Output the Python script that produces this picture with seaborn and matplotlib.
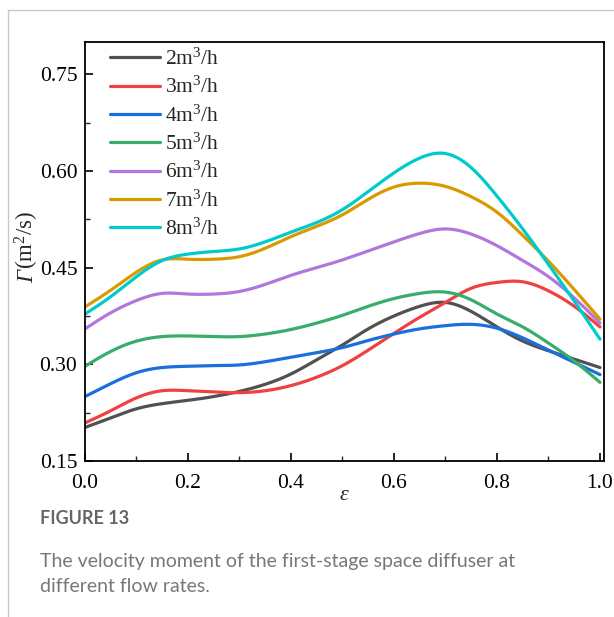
import numpy as np
import pandas as pd
import matplotlib
matplotlib.use("Agg")
import matplotlib.pyplot as plt
import seaborn as sns
from matplotlib.ticker import MultipleLocator
from matplotlib.lines import Line2D

eps = [0.0, 0.05, 0.1, 0.15, 0.2, 0.25, 0.3, 0.35, 0.4, 0.45, 0.5,
       0.55, 0.6, 0.65, 0.7, 0.75, 0.8, 0.85, 0.9, 0.95, 1.0]

q2 = [0.202, 0.217, 0.231, 0.239, 0.244, 0.250, 0.258, 0.269, 0.285, 0.307, 0.330,
      0.355, 0.375, 0.390, 0.396, 0.382, 0.358, 0.336, 0.321, 0.308, 0.295]
q3 = [0.209, 0.228, 0.248, 0.259, 0.259, 0.257, 0.256, 0.259, 0.267, 0.280, 0.298,
      0.322, 0.348, 0.373, 0.396, 0.418, 0.427, 0.428, 0.414, 0.390, 0.358]
q4 = [0.250, 0.270, 0.287, 0.295, 0.297, 0.298, 0.299, 0.304, 0.311, 0.318, 0.326,
      0.337, 0.347, 0.355, 0.360, 0.362, 0.356, 0.341, 0.322, 0.303, 0.284]
q5 = [0.297, 0.320, 0.336, 0.343, 0.344, 0.343, 0.343, 0.347, 0.354, 0.364, 0.376,
      0.390, 0.402, 0.410, 0.412, 0.400, 0.378, 0.358, 0.333, 0.305, 0.272]
q6 = [0.355, 0.380, 0.399, 0.410, 0.409, 0.409, 0.413, 0.424, 0.438, 0.450, 0.462,
      0.476, 0.490, 0.503, 0.510, 0.502, 0.484, 0.461, 0.436, 0.403, 0.364]
q7 = [0.389, 0.415, 0.443, 0.462, 0.463, 0.463, 0.467, 0.480, 0.498, 0.514, 0.532,
      0.556, 0.575, 0.581, 0.576, 0.560, 0.536, 0.500, 0.460, 0.416, 0.370]
q8 = [0.378, 0.405, 0.436, 0.461, 0.471, 0.475, 0.479, 0.490, 0.505, 0.520, 0.540,
      0.568, 0.597, 0.620, 0.627, 0.605, 0.561, 0.510, 0.455, 0.398, 0.339]

series_labels = [r"2m$^3$/h", r"3m$^3$/h", r"4m$^3$/h", r"5m$^3$/h",
                 r"6m$^3$/h", r"7m$^3$/h", r"8m$^3$/h"]
series_values = [q2, q3, q4, q5, q6, q7, q8]
colors = ["#515151", "#F14040", "#1A6FDF", "#37AD6B", "#B177DE", "#D99A00", "#00CBCC"]

x_ticks = [0.0, 0.2, 0.4, 0.6, 0.8, 1.0]
y_ticks = [0.15, 0.30, 0.45, 0.60, 0.75]


def spline_connect(x, y, n=300):
    """Natural cubic spline line connection (like Origin's 'Spline' line style)."""
    x = np.asarray(x, float)
    y = np.asarray(y, float)
    m = len(x)
    h = np.diff(x)
    A = np.zeros((m, m))
    b = np.zeros(m)
    A[0, 0] = A[-1, -1] = 1.0
    for i in range(1, m - 1):
        A[i, i - 1] = h[i - 1]
        A[i, i] = 2 * (h[i - 1] + h[i])
        A[i, i + 1] = h[i]
        b[i] = 3 * ((y[i + 1] - y[i]) / h[i] - (y[i] - y[i - 1]) / h[i - 1])
    c = np.linalg.solve(A, b)
    xs = np.linspace(x[0], x[-1], n)
    idx = np.clip(np.searchsorted(x, xs) - 1, 0, m - 2)
    dx = xs - x[idx]
    bb = (y[idx + 1] - y[idx]) / h[idx] - h[idx] * (2 * c[idx] + c[idx + 1]) / 3
    dd = (c[idx + 1] - c[idx]) / (3 * h[idx])
    ys = y[idx] + bb * dx + c[idx] * dx ** 2 + dd * dx ** 3
    return xs, ys


rows = []
for lab, vals in zip(series_labels, series_values):
    xs, ys = spline_connect(eps, vals)
    for e, v in zip(xs, ys):
        rows.append({"eps": e, "gamma": v, "flow": lab})
df = pd.DataFrame(rows)

sns.set_theme(style="ticks")
plt.rcParams["font.family"] = ["Liberation Serif", "DejaVu Serif"]
plt.rcParams["mathtext.fontset"] = "custom"
plt.rcParams["mathtext.rm"] = "Liberation Serif"
plt.rcParams["mathtext.it"] = "Liberation Serif:italic"
plt.rcParams["mathtext.bf"] = "Liberation Serif:bold"

fig = plt.figure(figsize=(6.14, 6.17), dpi=100)
ax = fig.add_axes([85/614, 1-461/617, (604-85)/614, (461-42)/617])

sns.lineplot(data=df, x="eps", y="gamma", hue="flow", hue_order=series_labels,
             palette=colors, linewidth=2.3, ax=ax, legend=False, sort=False,
             estimator=None)

ax.set_xlim(0, 1.0078)
ax.set_ylim(0.15, 0.80)
ax.set_xticks(x_ticks)
ax.set_xticklabels([f"{t:.1f}" for t in x_ticks])
ax.set_yticks(y_ticks)
ax.set_yticklabels([f"{t:.2f}" for t in y_ticks])
ax.xaxis.set_minor_locator(MultipleLocator(0.1))
ax.yaxis.set_minor_locator(MultipleLocator(0.075))
ax.tick_params(which="major", direction="in", length=6, width=1.2, labelsize=15.5,
               colors="black")
ax.tick_params(axis="x", which="major", pad=9)
ax.tick_params(axis="y", which="major", pad=5.5)
ax.tick_params(which="minor", direction="in", length=3.5, width=1.0)
for s in ax.spines.values():
    s.set_linewidth(1.3)
    s.set_color("black")

ax.set_xlabel(r"$\varepsilon$", fontsize=16, labelpad=-5)
ylab = ax.set_ylabel("(m$^2$/s)", fontsize=16.5, labelpad=0)
ax.yaxis.set_label_coords(-0.085, 0.527)

handles = [Line2D([0], [0], color=c, lw=2.3) for c in colors]
ax.legend(handles, series_labels, loc="upper left", frameon=False, fontsize=15.5,
          handlelength=2.3, handletextpad=0.25, labelspacing=0.33,
          bbox_to_anchor=(0.02, 1.02), borderaxespad=0.3)

# italic Gamma placed just before the rest of the y label
fig.canvas.draw()
bb = ylab.get_window_extent()
fig.text((bb.x0 + bb.x1) / 2 / fig.bbox.width + 0.001, (bb.y0 - 0.5) / fig.bbox.height,
         "Γ", fontsize=16.5, style="italic", rotation=90, ha="center", va="top",
         family="Liberation Serif")

# page frame lines
fig.add_artist(Line2D([8/614, 8/614], [0, 1-10/617], color="#c8c8c8", lw=1.0))
fig.add_artist(Line2D([8/614, 1], [1-10/617, 1-10/617], color="#c8c8c8", lw=1.0))

fig.text(40/614, 1-518/617, "FIGURE 13", fontsize=13, fontweight="bold",
         color="#666666", family="Lato", va="center", ha="left")
fig.text(40/614, 1-561/617, "The velocity moment of the first-stage space diffuser at",
         fontsize=14, color="#777777", family="Lato", va="center", ha="left")
fig.text(40/614, 1-586/617, "different flow rates.",
         fontsize=14, color="#777777", family="Lato", va="center", ha="left")

fig.savefig("out.png", dpi=100)
